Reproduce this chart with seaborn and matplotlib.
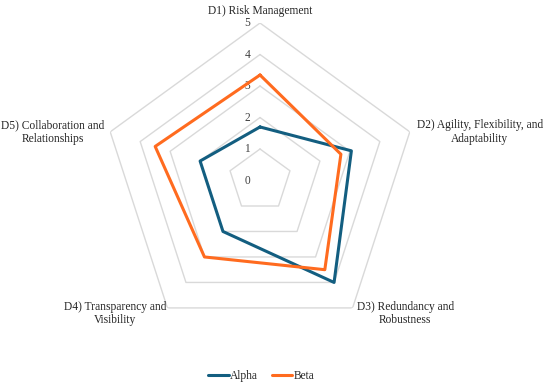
import numpy as np
import pandas as pd
import seaborn as sns
import matplotlib.pyplot as plt

# data
categories = [
    "D1) Risk Management",
    "D2) Agility, Flexibility, and\nAdaptability",
    "D3) Redundancy and\nRobustness",
    "D4) Transparency and\nVisibility",
    "D5) Collaboration and\nRelationships",
]
alpha_scores = [1.7, 3.05, 4.0, 2.0, 2.0]
beta_scores = [3.35, 2.7, 3.5, 3.0, 3.5]
levels = [0, 1, 2, 3, 4, 5]
series_names = ["Alpha", "Beta"]

colors = {"Alpha": "#135E80", "Beta": "#FF6B1F"}

sns.set_theme(style="white")
plt.rcParams["font.family"] = ["Liberation Serif", "DejaVu Serif"]

n = len(categories)
theta = np.linspace(0, 2 * np.pi, n, endpoint=False)
theta_closed = np.append(theta, 2 * np.pi)

rows = []
for name, vals in zip(series_names, [alpha_scores, beta_scores]):
    vals_closed = list(vals) + [vals[0]]
    for i, (t, v) in enumerate(zip(theta_closed, vals_closed)):
        rows.append({"theta": t, "score": v, "series": name, "order": i})
df = pd.DataFrame(rows)

fs = 8.3

fig = plt.figure(figsize=(5.5, 3.9), dpi=100)
ax = fig.add_axes([0.1864, 0.1333, 0.5727, 0.8077], projection="polar")
ax.set_theta_offset(np.pi / 2)
ax.set_theta_direction(-1)
ax.set_ylim(0, 5)
ax.grid(False)
ax.spines["polar"].set_visible(False)
ax.set_xticks([])
ax.set_yticks([])
ax.set_facecolor("none")

# pentagon gridlines
for lv in levels[1:]:
    ax.plot(theta_closed, [lv] * len(theta_closed), color="#D9D9D9", lw=1.0, zorder=1)

# value tick labels along the top axis
for lv in levels:
    ax.annotate(str(lv), xy=(0, lv), xytext=(-7, 0), textcoords="offset points",
                ha="right", va="center", fontsize=fs, color="#404040")

sns.lineplot(data=df, x="theta", y="score", hue="series", palette=colors,
             sort=False, estimator=None, units="series", lw=2.2, ax=ax, legend=False,
             zorder=3)
ax.set_xlabel("")
ax.set_ylabel("")

# category labels
label_opts = [
    dict(xytext=(0, 4), ha="center", va="bottom"),
    dict(xytext=(5, 0), ha="left", va="center"),
    dict(xytext=(3, -4), ha="left", va="center"),
    dict(xytext=(-1, -4), ha="right", va="center"),
    dict(xytext=(-4, 0), ha="right", va="center"),
]
for t, lab, opt in zip(theta, categories, label_opts):
    ax.annotate(lab, xy=(t, 5), textcoords="offset points", fontsize=fs,
                multialignment="center", color="#262626", annotation_clip=False, **opt)

handles = [plt.Line2D([], [], color=colors[s], lw=2.2) for s in series_names]
fig.legend(handles, series_names, loc="center", bbox_to_anchor=(0.475, 0.035),
           ncol=2, frameon=False, fontsize=fs, handlelength=1.8,
           handletextpad=0.1, columnspacing=1.2)

fig.savefig("out.png", dpi=100)
